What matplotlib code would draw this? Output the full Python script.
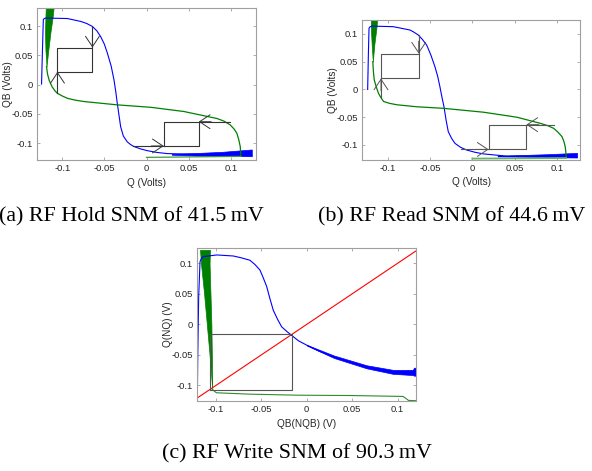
import matplotlib
matplotlib.use("Agg")
import matplotlib.pyplot as plt

# ---- (a) hold ----
a_blue_x = [-0.1246, -0.1235, -0.1225, -0.1215, -0.120, -0.110, -0.094, -0.078, -0.071,
            -0.0643, -0.059, -0.0544, -0.050, -0.0465, -0.042, -0.0386, -0.0365, -0.0347,
            -0.0307, -0.0275, -0.0228, -0.019, -0.0149, -0.007, 0.0008, 0.012, 0.0245,
            0.048, 0.08, 0.11, 0.125]
a_blue_y = [0.001, 0.06, 0.111, 0.1128, 0.1138, 0.1135, 0.113, 0.108, 0.1045,
            0.0995, 0.092, 0.082, 0.069, 0.054, 0.032, 0.008, -0.012, -0.032,
            -0.072, -0.088, -0.098, -0.1025, -0.106, -0.110, -0.113, -0.116, -0.118,
            -0.119, -0.1195, -0.120, -0.1205]
a_band_x = [0.03, 0.06, 0.09, 0.125]
a_band_lo = [-0.120, -0.1215, -0.122, -0.1225]
a_band_hi = [-0.1185, -0.117, -0.115, -0.111]
a_gband_y = [0.031, 0.06, 0.09, 0.115, 0.135]
a_gband_l = [-0.1187, -0.120, -0.1205, -0.120, -0.1195]
a_gband_r = [-0.1187, -0.1165, -0.114, -0.1115, -0.110]
a_green_x = [-0.1187, -0.1175, -0.1155, -0.112, -0.1085, -0.1057, -0.100, -0.0939,
             -0.085, -0.0742, -0.0347, 0.0047, 0.0442, 0.0836, 0.092, 0.0994, 0.104,
             0.1073, 0.1095, 0.1113, 0.112]
a_green_y = [0.031, 0.018, 0.007, -0.004, -0.011, -0.015, -0.0195, -0.0235,
             -0.0265, -0.029, -0.0347, -0.0388, -0.046, -0.058, -0.0625, -0.069, -0.076,
             -0.0834, -0.094, -0.106, -0.122]
a_floor_x = [0.0, 0.112]
a_floor_y = [-0.1245, -0.1228]
a_snm = 0.0415
a_box_up = (-0.1057, 0.0218)     # lower-left corner of upper square
a_box_up_ext = (0.0995, -0.015)  # right edge runs up to, left edge runs down to
a_box_lo = (0.0205, -0.105)
a_box_lo_ext = (0.0994, -0.0166) # top edge runs right to, bottom edge runs left to

# ---- (b) read ----
b_blue_x = [-0.1238, -0.123, -0.1222, -0.121, -0.119, -0.0935, -0.0738, -0.0695, -0.0639,
            -0.059, -0.054, -0.049, -0.0442, -0.041, -0.0383, -0.036, -0.0335, -0.031,
            -0.0284, -0.0245, -0.0205, -0.014, -0.0067, 0.003, 0.013, 0.0406, 0.08, 0.124]
b_blue_y = [0.0, 0.06, 0.110, 0.1127, 0.114, 0.113, 0.107, 0.1035, 0.098,
            0.090, 0.080, 0.062, 0.041, 0.024, 0.005, -0.013, -0.031, -0.055,
            -0.076, -0.088, -0.097, -0.104, -0.109, -0.113, -0.116, -0.120, -0.1205, -0.121]
b_band_x = [0.03, 0.06, 0.09, 0.124]
b_band_lo = [-0.1205, -0.121, -0.122, -0.1225]
b_band_hi = [-0.1195, -0.118, -0.1165, -0.1142]
b_gband_y = [0.05, 0.08, 0.11, 0.13]
b_gband_l = [-0.1177, -0.119, -0.120, -0.120]
b_gband_r = [-0.1177, -0.116, -0.1135, -0.1124]
b_green_x = [-0.1177, -0.117, -0.116, -0.1135, -0.111, -0.108, -0.105, -0.098, -0.0891,
             -0.0655, -0.034, 0.0134, 0.0529, 0.0805, 0.089, 0.0963, 0.1015, 0.1062,
             0.1085, 0.110, 0.1113]
b_green_y = [0.05, 0.032, 0.017, 0.004, -0.007, -0.015, -0.0216, -0.025, -0.0276,
             -0.0312, -0.034, -0.041, -0.050, -0.061, -0.065, -0.070, -0.077, -0.085,
             -0.094, -0.103, -0.121]
b_floor_x = [0.0, 0.111]
b_floor_y = [-0.1245, -0.1235]
b_snm = 0.0446
b_box_up = (-0.108, 0.0198)
b_box_up_ext = (0.098, -0.013)
b_box_lo = (0.0194, -0.108)
b_box_lo_ext = (0.0963, -0.0138)

# ---- (c) write ----
c_blue_x = [-0.1205, -0.120, -0.119, -0.1175, -0.116, -0.1138, -0.099, -0.0808, -0.072,
            -0.0625, -0.057, -0.0515, -0.0478, -0.0441, -0.0405, -0.0368, -0.032, -0.0276,
            -0.022, -0.0166, -0.009, 0.0, 0.014, 0.0293, 0.046, 0.066, 0.08, 0.0953,
            0.108, 0.12]
c_blue_y = [-0.125, -0.053, 0.045, 0.1027, 0.108, 0.111, 0.1137, 0.112, 0.109,
            0.105, 0.098, 0.089, 0.076, 0.062, 0.042, 0.023, 0.008, -0.004,
            -0.0115, -0.018, -0.027, -0.034, -0.044, -0.053, -0.061, -0.0695, -0.074, -0.0777,
            -0.0785, -0.079]
c_band_x = [0.0, 0.03, 0.066, 0.095, 0.117, 0.118, 0.12]
c_band_lo = [-0.0345, -0.055, -0.072, -0.081, -0.083, -0.084, -0.084]
c_band_hi = [-0.0335, -0.051, -0.067, -0.0745, -0.0745, -0.071, -0.071]
c_gband_y = [-0.1066, -0.05, 0.0, 0.05, 0.1, 0.122]
c_gband_l = [-0.104, -0.107, -0.110, -0.113, -0.1165, -0.1175]
c_gband_r = [-0.104, -0.1045, -0.105, -0.106, -0.107, -0.1065]
c_green_x = [-0.104, -0.0995, -0.0628, -0.0078, 0.0472, 0.106, 0.109, 0.112, 0.12]
c_green_y = [-0.1066, -0.112, -0.1143, -0.116, -0.1165, -0.118, -0.121, -0.1245, -0.125]
c_diag = [-0.125, 0.125]
c_snm = 0.0903
c_box = (-0.1068, -0.1068)

BLUE = "#0000ff"
GREEN = "#008000"
FRAME = "#a0a0a0"
TXT = "#262626"

plt.rcParams["font.family"] = ["Liberation Sans", "DejaVu Sans"]

fig = plt.figure(figsize=(5.92, 4.71), dpi=100)


def style(ax, xlim, ylim, xlabel, ylabel):
    ax.set_xlim(*xlim)
    ax.set_ylim(*ylim)
    ax.set_xticks([-0.1, -0.05, 0, 0.05, 0.1])
    ax.set_yticks([-0.1, -0.05, 0, 0.05, 0.1])
    ax.set_xticklabels(["-0.1", "-0.05", "0", "0.05", "0.1"])
    ax.set_yticklabels(["-0.1", "-0.05", "0", "0.05", "0.1"])
    ax.tick_params(direction="in", length=2.5, width=0.6, colors=FRAME,
                   labelcolor=TXT, labelsize=6.8, top=True, right=True, pad=3)
    for s in ax.spines.values():
        s.set_color(FRAME)
        s.set_linewidth(0.8)
    ax.set_xlabel(xlabel, fontsize=7.2, color=TXT)
    ax.set_ylabel(ylabel, fontsize=7.2, color=TXT)
    ax.xaxis.set_label_coords(0.5, -0.118)
    ax.yaxis.set_label_coords(-0.11, 0.5)


def arrow(ax, tip, direction, color):
    off = {"down": (0, 9), "up": (0, -9), "left": (9, 0), "right": (-9, 0)}[direction]
    ax.annotate("", xy=tip, xytext=off, textcoords="offset points",
                arrowprops=dict(arrowstyle="->,head_length=0.75,head_width=0.5",
                                color=color, lw=0.7, shrinkA=0, shrinkB=0))


def butterfly(ax, box_up, up_ext, box_lo, lo_ext, snm, color):
    x0, y0 = box_up
    ax.plot([x0, x0 + snm, x0 + snm, x0, x0], [y0, y0, y0 + snm, y0 + snm, y0],
            color=color, lw=0.8)
    ax.plot([x0 + snm, x0 + snm], [y0 + snm, up_ext[0]], color=color, lw=0.8)
    ax.plot([x0, x0], [y0, up_ext[1]], color=color, lw=0.8)
    arrow(ax, (x0 + snm, y0 + snm), "down", color)
    arrow(ax, (x0, y0), "up", color)
    x1, y1 = box_lo
    ax.plot([x1, x1 + snm, x1 + snm, x1, x1], [y1, y1, y1 + snm, y1 + snm, y1],
            color=color, lw=0.8)
    ax.plot([x1 + snm, lo_ext[0]], [y1 + snm, y1 + snm], color=color, lw=0.8)
    ax.plot([x1, lo_ext[1]], [y1, y1], color=color, lw=0.8)
    arrow(ax, (x1 + snm, y1 + snm), "left", color)
    arrow(ax, (x1, y1), "right", color)


# (a)
ax = fig.add_axes([37 / 592, 1 - 160 / 471, 219 / 592, 152 / 471])
ax.plot(a_blue_x, a_blue_y, color=BLUE, lw=0.8)
ax.fill_between(a_band_x, a_band_lo, a_band_hi, color=BLUE, lw=0.5)
ax.plot(a_green_x, a_green_y, color=GREEN, lw=0.9)
ax.fill_betweenx(a_gband_y, a_gband_l, a_gband_r, color=GREEN, lw=0.5)
ax.plot(a_floor_x, a_floor_y, color="#3a9a3a", lw=0.9)
butterfly(ax, a_box_up, a_box_up_ext, a_box_lo, a_box_lo_ext, a_snm, "#333333")
style(ax, (-0.13, 0.13), (-0.129, 0.131), "Q (Volts)", "QB (Volts)")

# (b)
ax = fig.add_axes([362 / 592, 1 - 160 / 471, 218 / 592, 140 / 471])
ax.plot(b_blue_x, b_blue_y, color=BLUE, lw=0.8)
ax.fill_between(b_band_x, b_band_lo, b_band_hi, color=BLUE, lw=0.5)
ax.plot(b_green_x, b_green_y, color=GREEN, lw=0.9)
ax.fill_betweenx(b_gband_y, b_gband_l, b_gband_r, color=GREEN, lw=0.5)
ax.plot(b_floor_x, b_floor_y, color="#66b366", lw=1.3)
butterfly(ax, b_box_up, b_box_up_ext, b_box_lo, b_box_lo_ext, b_snm, "#555555")
style(ax, (-0.1305, 0.1275), (-0.127, 0.125), "Q (Volts)", "QB (Volts)")

# (c)
ax = fig.add_axes([197.3 / 592, 1 - 400.7 / 471, 218.4 / 592, 152.4 / 471])
ax.plot(c_diag, c_diag, color="#ff0000", lw=0.8)
ax.plot(c_blue_x, c_blue_y, color=BLUE, lw=0.8)
ax.fill_between(c_band_x, c_band_lo, c_band_hi, color=BLUE, lw=0.5)
ax.fill_betweenx(c_gband_y, c_gband_l, c_gband_r, color=GREEN, lw=0.5)
ax.plot(c_green_x, c_green_y, color="#2e8b2e", lw=0.8)
bx, by = c_box
ax.plot([bx, bx + c_snm, bx + c_snm, bx, bx], [by, by, by + c_snm, by + c_snm, by],
        color="#555555", lw=0.8)
style(ax, (-0.1205, 0.12), (-0.125, 0.1246), "QB(NQB) (V)", "Q(NQ) (V)")

serif = ["Liberation Serif", "DejaVu Serif"]
fig.text(131 / 592, 1 - 217 / 471, "(a) RF Hold SNM of 41.5\u2009mV", ha="center",
         va="center", fontsize=15.8, family=serif)
fig.text(452 / 592, 1 - 217 / 471, "(b) RF Read SNM of 44.6\u2009mV", ha="center",
         va="center", fontsize=15.8, family=serif)
fig.text(296.5 / 592, 1 - 454 / 471, "(c) RF Write SNM of 90.3\u2009mV", ha="center",
         va="center", fontsize=15.8, family=serif)

fig.savefig("out.png", dpi=100)
